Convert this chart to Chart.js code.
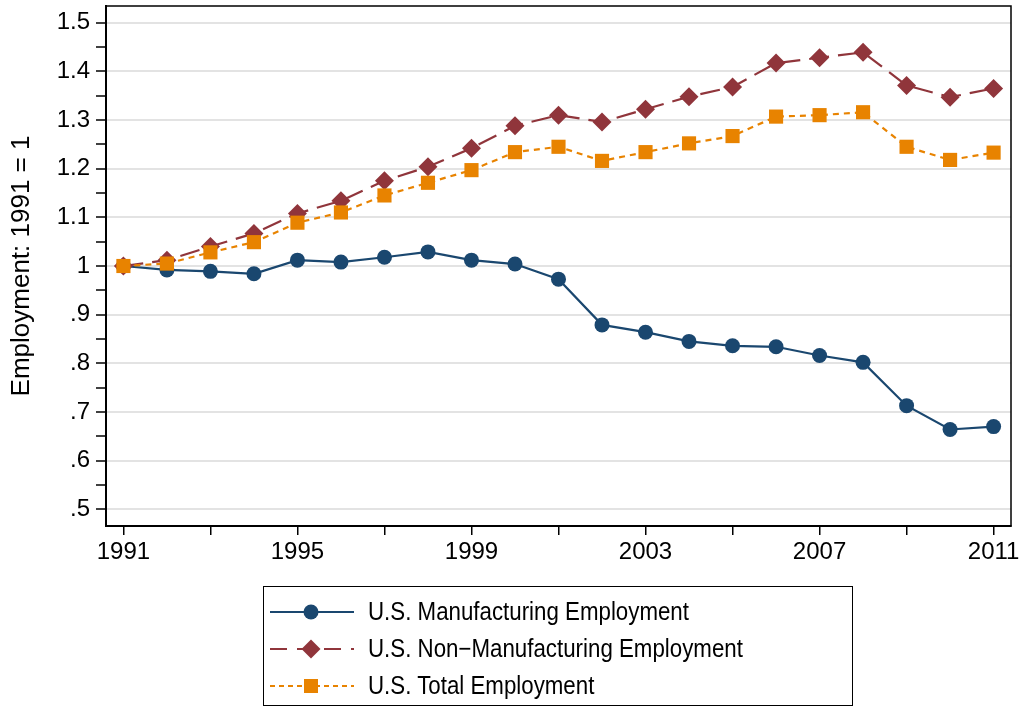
<!DOCTYPE html>
<html>
<head>
<meta charset="utf-8">
<script src="https://cdn.jsdelivr.net/npm/chart.js@4.4.0/dist/chart.umd.min.js"></script>
<style>
  html, body { margin: 0; padding: 0; background: #fff; }
  #wrap { position: relative; width: 1024px; height: 711px; }
  #chart { position: absolute; left: 0; top: 0; }
  #legend {
    position: absolute; left: 263px; top: 586px; width: 590px; height: 120px;
    border: 1.5px solid #000; box-sizing: border-box;
    font-family: "Liberation Sans", Arial, sans-serif; font-size: 22.3px; color: #000;
  }
  .row { position: absolute; left: 0; height: 30px; display: flex; align-items: center; }
  .row svg { margin-left: 6px; }
  .row span { margin-left: 14px; white-space: nowrap; display: inline-block; transform: scaleY(1.14); transform-origin: left center; }
</style>
</head>
<body>
<div id="wrap">
  <canvas id="chart" width="1024" height="711"></canvas>
  <div id="legend"></div>
</div>
<script>
// Data
const years = [1991, 1992, 1993, 1994, 1995, 1996, 1997, 1998, 1999, 2000,
               2001, 2002, 2003, 2004, 2005, 2006, 2007, 2008, 2009, 2010, 2011];

const manufacturing = [1.000, 0.992, 0.989, 0.984, 1.012, 1.008, 1.018, 1.029, 1.012, 1.004,
                       0.973, 0.879, 0.864, 0.845, 0.836, 0.834, 0.816, 0.802, 0.713, 0.664, 0.670];

const nonManufacturing = [1.000, 1.012, 1.040, 1.067, 1.108, 1.134, 1.175, 1.204, 1.242, 1.288,
                          1.310, 1.296, 1.322, 1.348, 1.368, 1.417, 1.428, 1.439, 1.371, 1.347, 1.365];

const totalEmployment = [1.000, 1.005, 1.028, 1.049, 1.089, 1.110, 1.145, 1.171, 1.197, 1.234,
                         1.245, 1.216, 1.234, 1.252, 1.267, 1.307, 1.310, 1.316, 1.245, 1.218, 1.233];

const xTickYears = [1991, 1993, 1995, 1997, 1999, 2001, 2003, 2005, 2007, 2009, 2011];
const xLabelYears = [1991, 1995, 1999, 2003, 2007, 2011];
const yTickValues = [0.5, 0.55, 0.6, 0.65, 0.7, 0.75, 0.8, 0.85, 0.9, 0.95, 1.0,
                     1.05, 1.1, 1.15, 1.2, 1.25, 1.3, 1.35, 1.4, 1.45, 1.5];

const seriesNames = ['U.S. Manufacturing Employment', 'U.S. Non\u2212Manufacturing Employment', 'U.S. Total Employment'];

const NAVY = '#1a476f';
const MAROON = '#90353b';
const ORANGE = '#e88300';
const FONT = '"Liberation Sans", Arial, sans-serif';

function toPoints(values) {
  return years.map((y, i) => ({ x: y, y: values[i] }));
}

function isMajorY(v) {
  return Math.abs(Math.round(v * 10) - v * 10) < 1e-6;
}

function formatY(v) {
  let s = (Math.round(v * 10) / 10).toString();
  if (s.startsWith('0.')) s = s.slice(1);
  return s;
}

// frame around the plot region
const framePlugin = {
  id: 'frame',
  afterDatasetsDraw(chart) {
    const a = chart.chartArea;
    const c = chart.ctx;
    c.save();
    c.strokeStyle = '#000';
    c.lineWidth = 1.5;
    c.strokeRect(a.left, a.top, a.right - a.left, a.bottom - a.top);
    c.restore();
  }
};

const ctx = document.getElementById('chart').getContext('2d');
const chart = new Chart(ctx, {
  type: 'line',
  data: {
    datasets: [
      {
        label: seriesNames[0],
        data: toPoints(manufacturing),
        borderColor: NAVY,
        backgroundColor: NAVY,
        borderWidth: 2.2,
        pointStyle: 'circle',
        pointRadius: 7.5,
        pointBorderWidth: 0,
        order: 3
      },
      {
        label: seriesNames[1],
        data: toPoints(nonManufacturing),
        borderColor: MAROON,
        backgroundColor: MAROON,
        borderWidth: 2.2,
        borderDash: [20, 9],
        pointStyle: 'rectRot',
        pointRadius: 9.5,
        pointBorderWidth: 0,
        order: 2
      },
      {
        label: seriesNames[2],
        data: toPoints(totalEmployment),
        borderColor: ORANGE,
        backgroundColor: ORANGE,
        borderWidth: 2.2,
        borderDash: [6, 5],
        pointStyle: 'rect',
        pointRadius: 10,
        pointBorderWidth: 0,
        order: 1
      }
    ]
  },
  options: {
    responsive: false,
    animation: false,
    events: [],
    layout: { autoPadding: false, padding: { left: 0, top: 6, right: 13, bottom: 0 } },
    plugins: { legend: { display: false }, tooltip: { enabled: false } },
    elements: { line: { tension: 0 } },
    scales: {
      x: {
        type: 'linear',
        min: 1990.6,
        max: 2011.4,
        afterBuildTicks(scale) {
          scale.ticks = xTickYears.map(v => ({ value: v }));
        },
        afterFit(scale) {
          scale.height = 185;
          scale.paddingLeft = 0;
          scale.paddingRight = 0;
        },
        grid: { drawOnChartArea: false, drawTicks: true, tickLength: 9, color: '#000', lineWidth: 1.5 },
        border: { color: '#000', width: 2 },
        ticks: {
          autoSkip: false,
          maxRotation: 0,
          padding: 3,
          color: '#000',
          font: { family: FONT, size: 24 },
          callback: v => (xLabelYears.includes(v) ? String(v) : '')
        }
      },
      y: {
        min: 0.4657,
        max: 1.5343,
        afterBuildTicks(scale) {
          scale.ticks = yTickValues.map(v => ({ value: v }));
        },
        afterFit(scale) {
          scale.width = 106;
          scale.paddingTop = 0;
          scale.paddingBottom = 0;
        },
        grid: {
          drawTicks: true,
          tickLength: 10,
          tickColor: '#000',
          tickWidth: 1.5,
          color: c => (isMajorY(c.tick.value) ? '#e3e3e3' : 'rgba(0,0,0,0)'),
          lineWidth: 2
        },
        border: { color: '#000', width: 2 },
        title: {
          display: true,
          text: 'Employment: 1991 = 1',
          color: '#000',
          font: { family: FONT, size: 26 },
          padding: { top: 6, bottom: 0 }
        },
        ticks: {
          autoSkip: false,
          padding: 6,
          color: '#000',
          font: { family: FONT, size: 24 },
          callback: v => (isMajorY(v) ? formatY(v) : '')
        }
      }
    }
  },
  plugins: [framePlugin]
});

// HTML legend with line + marker symbols
const legendDefs = [
  { color: NAVY, dash: '', marker: 'circle' },
  { color: MAROON, dash: '17 10', marker: 'diamond' },
  { color: ORANGE, dash: '5 4', marker: 'square' }
];
const legendEl = document.getElementById('legend');
legendDefs.forEach((d, i) => {
  const row = document.createElement('div');
  row.className = 'row';
  row.style.top = (10 + i * 37) + 'px';
  let mark = '';
  if (d.marker === 'circle') mark = `<circle cx="41" cy="15" r="7.5" fill="${d.color}"/>`;
  if (d.marker === 'diamond') mark = `<polygon points="41,5.5 50.5,15 41,24.5 31.5,15" fill="${d.color}"/>`;
  if (d.marker === 'square') mark = `<rect x="34" y="8" width="14" height="14" fill="${d.color}"/>`;
  row.innerHTML =
    `<svg width="84" height="30" viewBox="0 0 84 30">` +
    `<line x1="0" y1="15" x2="84" y2="15" stroke="${d.color}" stroke-width="2.2" ${d.dash ? `stroke-dasharray="${d.dash}"` : ''}/>` +
    mark + `</svg><span>${seriesNames[i]}</span>`;
  legendEl.appendChild(row);
});
</script>
</body>
</html>
